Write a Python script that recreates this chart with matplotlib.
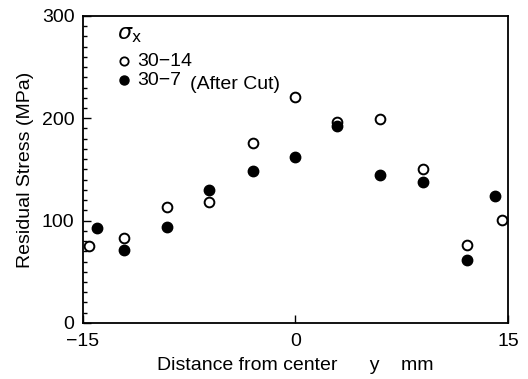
import matplotlib
matplotlib.use('Agg')
import matplotlib.pyplot as plt
from matplotlib.ticker import MultipleLocator

plt.rcParams['font.family'] = ['Liberation Sans', 'DejaVu Sans']

# 30-14 (open circles)
x_open = [-14.56, -12.08, -9.09, -6.09, -3.0, 0.0, 2.97, 5.98, 9.04, 12.12, 14.59]
y_open = [75.6, 83.4, 113, 118, 175.6, 221, 196.5, 199.7, 150.5, 76.5, 101]

# 30-7 (After Cut) (filled circles)
x_fill = [-14.03, -12.08, -9.09, -6.09, -3.0, 0.0, 2.97, 5.98, 9.04, 12.12, 14.12]
y_fill = [92.5, 71.7, 94.2, 130, 148, 162, 192, 145, 138, 61.3, 124]

fs = 14

fig = plt.figure(figsize=(5.28, 3.79), dpi=100)
ax = fig.add_axes([0.157, 0.148, 0.805, 0.81])

ax.plot(x_open, y_open, 'o', mfc='white', mec='black', mew=1.4, ms=7, clip_on=False)
ax.plot(x_fill, y_fill, 'o', mfc='black', mec='black', ms=7.5, clip_on=False)

ax.set_xlim(-15, 15)
ax.set_ylim(0, 300)
ax.set_xticks([-15, 0, 15])
ax.set_xticklabels(['\u221215', '0', '15'])
ax.set_yticks([0, 100, 200, 300])
ax.yaxis.set_minor_locator(MultipleLocator(10))
ax.tick_params(axis='both', which='major', direction='in', length=6, width=1,
               labelsize=fs, right=False, top=False)
ax.tick_params(axis='y', which='minor', direction='in', length=3, width=1, right=False)
ax.tick_params(axis='x', pad=7)
ax.tick_params(axis='y', pad=6)
for s in ax.spines.values():
    s.set_linewidth(1.3)

ax.set_xlabel('Distance from center      y    mm', fontsize=fs, labelpad=5)
ax.set_ylabel('Residual Stress (MPa)', fontsize=fs, labelpad=6)

# legend drawn by hand to mimic the original
ax.text(-12.6, 282, r'$\sigma_{\rm x}$', fontsize=16, ha='left', va='center')
ax.plot([-12.1], [256], 'o', mfc='white', mec='black', mew=1.3, ms=6)
ax.text(-11.2, 255, '30\u221214', fontsize=fs, ha='left', va='center')
ax.plot([-12.1], [237.5], 'o', mfc='black', mec='black', ms=6.5)
ax.text(-11.2, 236.5, '30\u22127', fontsize=fs, ha='left', va='center')
ax.text(-7.45, 232.6, '(After Cut)', fontsize=fs, ha='left', va='center')

fig.savefig('out.png', dpi=100)
